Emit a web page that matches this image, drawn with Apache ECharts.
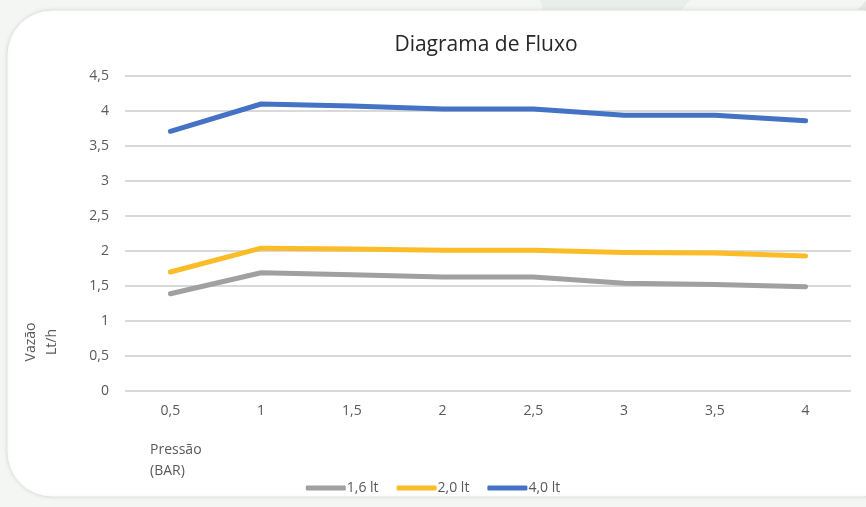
<!DOCTYPE html>
<html><head><meta charset="utf-8">
<script src="https://cdn.jsdelivr.net/npm/echarts@6/dist/echarts.min.js"></script>
<style>html,body{margin:0;padding:0;background:#f4f6f4}#c{width:866px;height:507px}</style>
</head><body><div id="c"></div>
<script>
const categories = ['0,5','1','1,5','2','2,5','3','3,5','4'];
const s16 = [1.39,1.69,1.66,1.63,1.63,1.54,1.52,1.49];
const s20 = [1.70,2.04,2.03,2.01,2.01,1.98,1.97,1.93];
const s40 = [3.71,4.10,4.07,4.03,4.03,3.94,3.94,3.86];
const seriesNames = ['1,6 lt','2,0 lt','4,0 lt'];
const colors = ['#a0a0a0','#fcbc28','#4472c4'];
const font = 'Open Sans';
const chart = echarts.init(document.getElementById('c'));
const mk = (name, data, color) => ({
  name, type:'line', data, symbol:'none', smooth:false,
  lineStyle:{width:5, color, cap:'round', join:'round'}, itemStyle:{color}
});
chart.setOption({
  backgroundColor:'#f4f6f4',
  graphic:[
    {type:'polygon', z:-10, shape:{points:[[540,0],[690,0],[640,60],[560,60]]}, style:{fill:'#e8eee9'}},
    {type:'circle', z:-10, shape:{cx:920,cy:60,r:80}, style:{fill:'#e6e8e6'}},
    {type:'rect', z:-5, shape:{x:7,y:10,width:900,height:487,r:45}, style:{fill:'#ffffff', stroke:'#e2e2e2', lineWidth:1, shadowColor:'rgba(0,0,0,0.08)', shadowBlur:4}},
    {type:'text', left:150, top:440, style:{text:'Pressão\n(BAR)', font:'14px "Open Sans"', fill:'#595959', lineHeight:21}},
    {type:'text', x:31, y:342, rotation:Math.PI/2, originX:0, originY:0, style:{text:'Vazão', font:'14px "Open Sans"', fill:'#595959', align:'center', verticalAlign:'middle'}},
    {type:'text', x:52, y:342, rotation:Math.PI/2, originX:0, originY:0, style:{text:'Lt/h', font:'14px "Open Sans"', fill:'#595959', align:'center', verticalAlign:'middle'}}
  ],
  title:{text:'Diagrama de Fluxo', left:481, top:30, textAlign:'center',
    textStyle:{fontFamily:font, fontWeight:'normal', fontSize:21, color:'#262626'}},
  legend:{bottom:7, left:'center', itemWidth:40, itemHeight:5, itemGap:18,
    icon:'roundRect',
    textStyle:{fontFamily:font, fontSize:14, color:'#595959', padding:[0,0,0,-4]}},
  grid:{left:125, right:15, top:76, bottom:116, containLabel:false},
  xAxis:{type:'category', data:categories, boundaryGap:true,
    axisLine:{show:false}, axisTick:{show:false},
    axisLabel:{fontFamily:font, fontSize:14, color:'#595959', margin:13}},
  yAxis:{type:'value', min:0, max:4.5, interval:0.5,
    axisLabel:{fontFamily:font, fontSize:14, color:'#595959', margin:16,
      formatter:v=>String(v).replace('.',',')},
    splitLine:{lineStyle:{color:'#d9d9d9', width:2}}},
  series:[mk(seriesNames[0],s16,colors[0]), mk(seriesNames[1],s20,colors[1]), mk(seriesNames[2],s40,colors[2])]
});
</script></body></html>
